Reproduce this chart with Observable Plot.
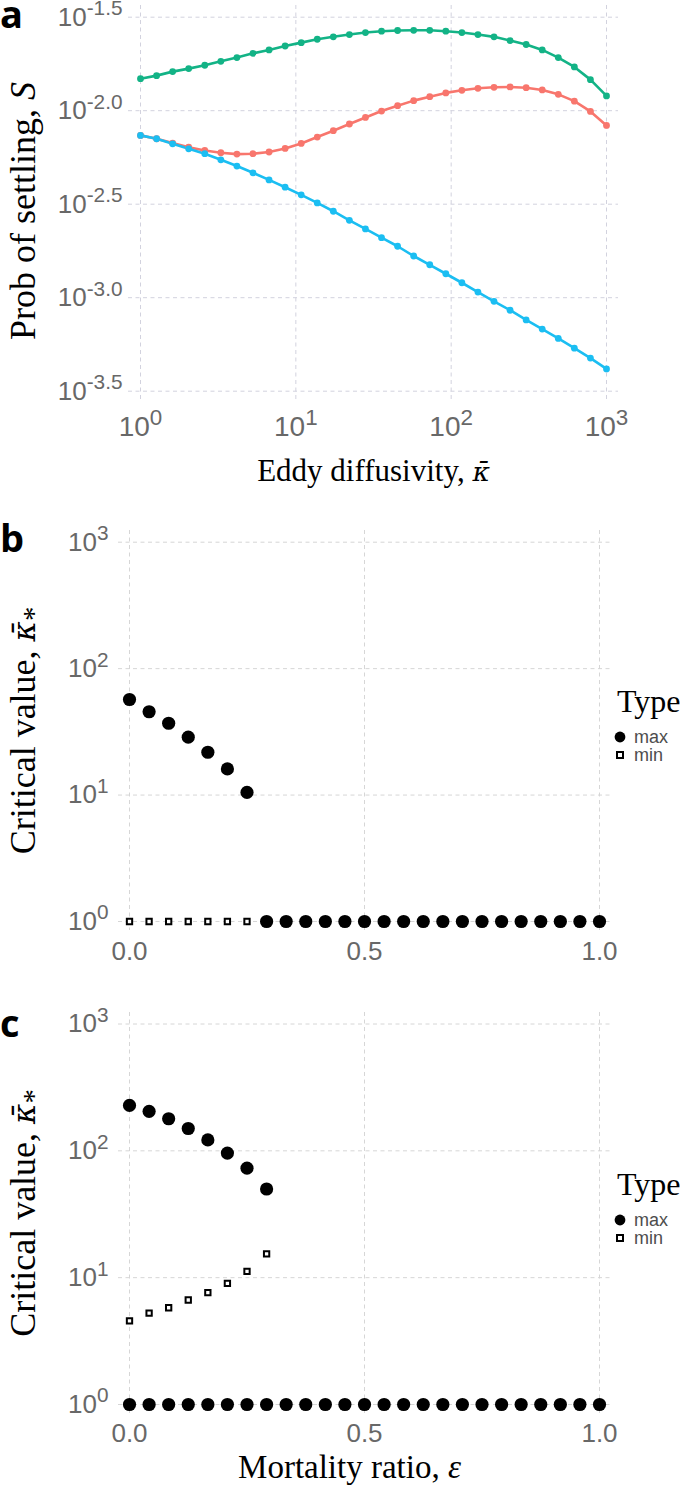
<!DOCTYPE html>
<html><head><meta charset="utf-8">
<script src="https://cdn.jsdelivr.net/npm/d3@7"></script>
<script src="https://cdn.jsdelivr.net/npm/@observablehq/plot@0.6"></script>
<style>
body{margin:0;background:#fff;}
#root{position:relative;width:685px;height:1502px;overflow:hidden;background:#fff;}
#root svg{position:absolute;left:0;overflow:visible;}
</style></head><body><div id="root"></div>
<script>
// ---------- Panel a data ----------
const kappa = [1, 1.269, 1.610, 2.043, 2.593, 3.290, 4.175, 5.298, 6.723, 8.532,
  10.83, 13.74, 17.43, 22.12, 28.07, 35.62, 45.20, 57.36, 72.79, 92.37,
  117.2, 148.7, 188.7, 239.5, 303.9, 385.7, 489.4, 621.0, 788.0, 1000];
const settleRed = [0.007379, 0.007079, 0.006714, 0.006383, 0.006124, 0.005957, 0.005861, 0.005888, 0.006012, 0.006281,
  0.006683, 0.007228, 0.007816, 0.008492, 0.009204, 0.009954, 0.01064, 0.01132, 0.01189, 0.01245,
  0.01285, 0.01318, 0.01334, 0.01340, 0.01327, 0.01291, 0.01223, 0.01125, 0.009908, 0.008337];
const settleGreen = [0.01483, 0.01540, 0.01618, 0.01679, 0.01750, 0.01837, 0.01923, 0.02028, 0.02113, 0.02218,
  0.02312, 0.02410, 0.02483, 0.02553, 0.02618, 0.02661, 0.02685, 0.02692, 0.02692, 0.02661,
  0.02618, 0.02553, 0.02483, 0.02371, 0.02259, 0.02113, 0.01923, 0.01714, 0.01466, 0.01199];
const settleBlue = [0.007379, 0.007079, 0.006653, 0.006252, 0.005888, 0.005464, 0.005058, 0.004656, 0.004266, 0.003899,
  0.003548, 0.003214, 0.002900, 0.002594, 0.002333, 0.002094, 0.001884, 0.001671, 0.001500, 0.001343,
  0.001202, 0.001072, 0.0009561, 0.0008570, 0.0007603, 0.0006792, 0.0006053, 0.0005370, 0.0004753, 0.0004159];
const seriesNames = ["series 1", "series 2", "series 3"];
const kappaTicks = [1, 10, 100, 1000];
const kappaTickLabels = ["10^{0}", "10^{1}", "10^{2}", "10^{3}"];
const settleTicks = [0.000316228, 0.001, 0.00316228, 0.01, 0.0316228];
const settleTickLabels = ["10^{-3.5}", "10^{-3.0}", "10^{-2.5}", "10^{-2.0}", "10^{-1.5}"];

// ---------- Panels b, c data ----------
const epsilon = [0, 0.0417, 0.0833, 0.125, 0.1667, 0.2083, 0.25, 0.2917, 0.3333, 0.375, 0.4167, 0.4583, 0.5,
  0.5417, 0.5833, 0.625, 0.6667, 0.7083, 0.75, 0.7917, 0.8333, 0.875, 0.9167, 0.9583, 1];
const bMax = [57, 45.6, 37, 28.7, 21.8, 16.1, 10.5, 1, 1, 1, 1, 1, 1, 1, 1, 1, 1, 1, 1, 1, 1, 1, 1, 1, 1];
const bMin = [1, 1, 1, 1, 1, 1, 1, null, null, null, null, null, null, null, null, null, null, null, null, null, null, null, null, null, null];
const cMaxUpper = [228, 205, 179, 150, 122, 96, 73, 50, null, null, null, null, null, null, null, null, null, null, null, null, null, null, null, null, null];
const cMaxLower = [1, 1, 1, 1, 1, 1, 1, 1, 1, 1, 1, 1, 1, 1, 1, 1, 1, 1, 1, 1, 1, 1, 1, 1, 1];
const cMin = [4.57, 5.26, 5.79, 6.67, 7.62, 9.02, 11.2, 15.4, null, null, null, null, null, null, null, null, null, null, null, null, null, null, null, null, null];
const critTicks = [1, 10, 100, 1000];
const critTickLabels = ["10^{0}", "10^{1}", "10^{2}", "10^{3}"];
const epsTicks = [0, 0.5, 1];
const epsTickLabels = ["0.0", "0.5", "1.0"];
const typeNames = ["max", "min"];

// ---------- styles ----------
const seriesColors = ["#F8766D", "#13B386", "#1BBEF2"];
const SANS = "Liberation Sans, Arial, sans-serif";
const SERIF = "Liberation Serif, Times New Roman, serif";
const tickColor = "#686868";

// rich text: ^{..} superscript, _{..} subscript, *{..} italic, ~{..} italic with bar
function rich(svg) {
  svg.querySelectorAll("text").forEach(t => {
    const s = t.textContent;
    if (!/[\^_*~]\{/.test(s)) return;
    const fs = parseFloat(t.closest("[font-size]")?.getAttribute("font-size") || 16);
    const re = /(\^|_|\*|~)\{([^}]*)\}/g;
    const parts = []; let last = 0, m;
    while ((m = re.exec(s))) { if (m.index > last) parts.push(["n", s.slice(last, m.index)]); parts.push([m[1], m[2]]); last = re.lastIndex; }
    if (last < s.length) parts.push(["n", s.slice(last)]);
    t.textContent = "";
    let cur = 0;
    for (const [k, txt] of parts) {
      const ts = document.createElementNS("http://www.w3.org/2000/svg", "tspan");
      let tgt = 0;
      if (k === "^") { tgt = -0.40 * fs; ts.setAttribute("font-size", (0.8 * fs) + "px"); }
      if (k === "_") { tgt = 0.22 * fs; ts.setAttribute("font-size", (0.8 * fs) + "px"); }
      if (k === "*") ts.setAttribute("font-style", "italic");
      if (k === "~") { ts.setAttribute("font-style", "italic"); ts.setAttribute("font-family", "DejaVu Serif, serif"); ts.setAttribute("font-size", (0.86 * fs) + "px"); }
      if (tgt - cur !== 0) ts.setAttribute("dy", (tgt - cur) + "px");
      cur = tgt;
      ts.textContent = k === "~" ? txt + "\u0304" : txt;
      t.appendChild(ts);
    }
  });
}

const root = document.getElementById("root");

// ---------- Panel a ----------
const rowsA = [];
[settleRed, settleGreen, settleBlue].forEach((arr, j) => arr.forEach((v, i) => rowsA.push({k: kappa[i], s: v, series: seriesNames[j]})));
const gridA = {stroke: "#D2D2DE", strokeWidth: 1, strokeDasharray: "4,3.5"};
const plotA = Plot.plot({
  width: 685, height: 500,
  marginLeft: 128, marginRight: 67, marginTop: 5, marginBottom: 100,
  x: {type: "log", domain: [1, 1000], range: [140, 606], axis: null},
  y: {type: "log", domain: [0.000316228, 0.0316228], range: [390.7, 16.7], axis: null},
  color: {domain: seriesNames, range: seriesColors},
  style: {background: "transparent", overflow: "visible"},
  marks: [
    Plot.ruleX(kappaTicks, {x: d => d, ...gridA}),
    Plot.ruleY(settleTicks, {y: d => d, ...gridA}),
    Plot.line(rowsA, {x: "k", y: "s", z: "series", stroke: "series", strokeWidth: 2.6}),
    Plot.dot(rowsA, {x: "k", y: "s", fill: "series", r: 3.4}),
    Plot.text(kappaTicks, {x: d => d, text: (d, i) => kappaTickLabels[i], frameAnchor: "bottom", lineAnchor: "middle", textAnchor: "middle", dy: 27, fontSize: 28, fontFamily: SANS, fill: tickColor}),
    Plot.text(settleTicks, {y: d => d, text: (d, i) => settleTickLabels[i], frameAnchor: "left", lineAnchor: "middle", dx: -6, textAnchor: "end", fontSize: 26, fontFamily: SANS, fill: tickColor}),
    Plot.text(["Eddy diffusivity, ~{κ}"], {frameAnchor: "bottom", lineAnchor: "middle", textAnchor: "middle", dy: 71, fontSize: 31, fontFamily: SERIF, fill: "#000"}),
    Plot.text(["Prob of settling, *{S}"], {frameAnchor: "left", lineAnchor: "middle", textAnchor: "middle", dx: -105, dy: 8, rotate: -90, fontSize: 36, fontFamily: SERIF, fill: "#000"})
  ]
});
plotA.style.top = "0px";
root.appendChild(plotA);

// ---------- Panels b & c ----------
const gridBC = {stroke: "#D6D6D6", strokeWidth: 1, strokeDasharray: "4,3.5"};
function rowsOf(vals) { const r = []; vals.forEach((v, i) => { if (v != null) r.push({e: epsilon[i], v}); }); return r; }
function panelCrit(top, height, mt, mb, yRange, rowsCircle, rowsSquare, letter, showXTitle, tickDy, typeBase) {
  const marks = [
    Plot.ruleX(epsTicks, {x: d => d, ...gridBC}),
    Plot.ruleY(critTicks, {y: d => d, ...gridBC}),
    Plot.dot(rowsSquare, {x: "e", y: "v", symbol: "square", r: 3, fill: "white", stroke: "black", strokeWidth: 2}),
    Plot.dot(rowsCircle, {x: "e", y: "v", r: 6.6, fill: "black"}),
    Plot.text(epsTicks, {x: d => d, text: (d, i) => epsTickLabels[i], frameAnchor: "bottom", lineAnchor: "middle", textAnchor: "middle", dy: tickDy, fontSize: 26, fontFamily: SANS, fill: tickColor}),
    Plot.text(critTicks, {y: d => d, text: (d, i) => critTickLabels[i], frameAnchor: "left", lineAnchor: "middle", dx: -10, textAnchor: "end", fontSize: 26, fontFamily: SANS, fill: tickColor}),
    Plot.text(["Critical value, ~{κ}_{*}"], {frameAnchor: "left", lineAnchor: "middle", textAnchor: "middle", dx: -95, rotate: -90, fontSize: 36, fontFamily: SERIF, fill: "#000"})
  ];
  if (showXTitle) marks.push(Plot.text(["Mortality ratio, *{ε}"], {frameAnchor: "bottom", lineAnchor: "middle", textAnchor: "middle", dy: 54, dx: -15, fontSize: 33, fontFamily: SERIF, fill: "#000"}));
  const p = Plot.plot({
    width: 685, height,
    marginLeft: 118, marginRight: 75, marginTop: mt, marginBottom: mb,
    x: {type: "linear", domain: [0, 1], range: [129, 599], axis: null},
    y: {type: "log", domain: [1, 1000], range: yRange, axis: null},
    style: {background: "transparent", overflow: "visible"},
    marks
  });
  p.style.top = top + "px";
  root.appendChild(p);
  // legend (key for the symbol encoding)
  const g = d3.select(p).append("g").attr("text-anchor", "start");
  g.append("text").attr("x", 617).attr("y", typeBase).text("Type")
    .attr("font-family", SERIF).attr("font-size", 32).attr("fill", "#000");
  g.append("circle").attr("cx", 620).attr("cy", typeBase + 25).attr("r", 5.4).attr("fill", "#000");
  g.append("rect").attr("x", 617).attr("y", typeBase + 40).attr("width", 6).attr("height", 6)
    .attr("fill", "#fff").attr("stroke", "#000").attr("stroke-width", 2);
  [[typeNames[0], 25], [typeNames[1], 43]].forEach(([t, o]) => g.append("text").attr("x", 634).attr("y", typeBase + o).attr("dy", "0.35em")
    .text(t).attr("font-family", SANS).attr("font-size", 18).attr("fill", "#4D4D4D"));
  d3.select(p).append("text").attr("text-anchor", "start").attr("x", 0).attr("y", 52).text(letter)
    .attr("font-family", "Open Sans, sans-serif").attr("font-weight", 700).attr("font-size", 38).attr("fill", "#000");
  return p;
}

const plotB = panelCrit(500, 485, 30, 55, [421, 41.7], rowsOf(bMax), rowsOf(bMin), "b", false, 21, 212);
const plotC = panelCrit(985, 517, 27, 89, [419, 38.5], rowsOf(cMaxUpper).concat(rowsOf(cMaxLower)), rowsOf(cMin), "c", true, 20, 210);

d3.select(plotA).append("text").attr("text-anchor", "start").attr("x", 0).attr("y", 28).text("a")
  .attr("font-family", "Open Sans, sans-serif").attr("font-weight", 700).attr("font-size", 38).attr("fill", "#000");

[plotA, plotB, plotC].forEach(rich);
</script>
</body></html>
